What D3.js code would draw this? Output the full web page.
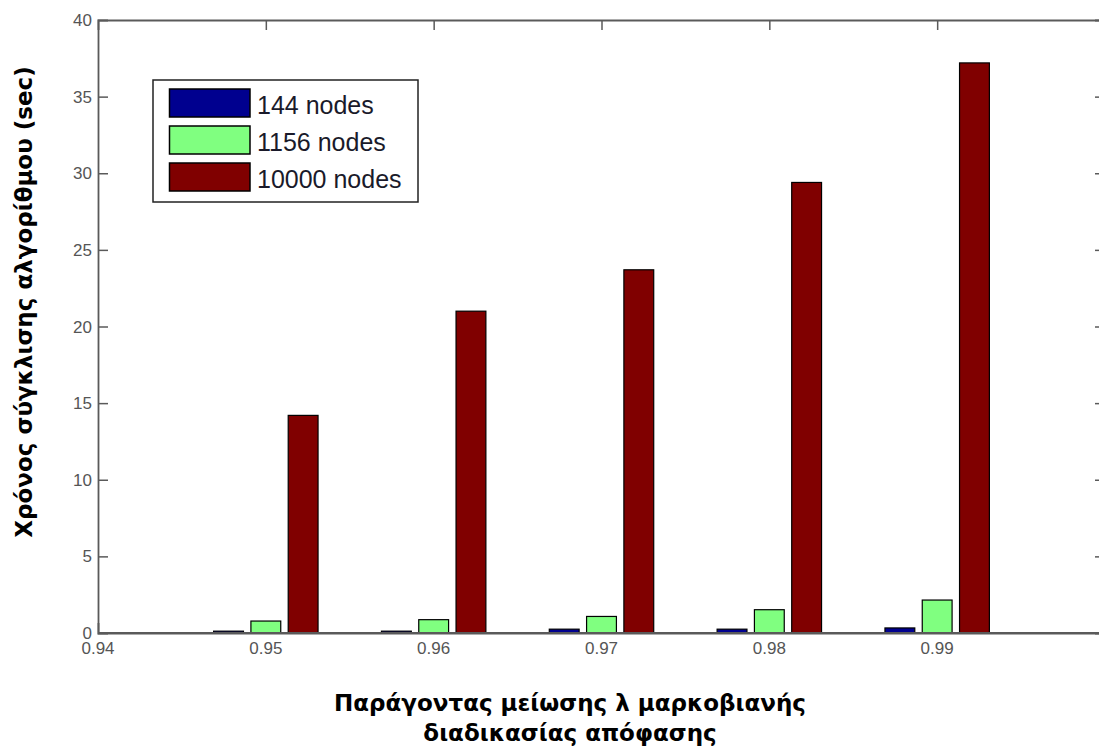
<!DOCTYPE html>
<html><head><meta charset="utf-8">
<script src="https://cdn.jsdelivr.net/npm/d3@7"></script>
<style>
html,body{margin:0;padding:0;background:#fff;overflow:hidden;}
svg{display:block;}
</style></head>
<body>
<svg id="chart" width="1099" height="755"></svg>
<script>
const categories = [0.95, 0.96, 0.97, 0.98, 0.99];
const seriesNames = ["144 nodes", "1156 nodes", "10000 nodes"];
const nodes144 = [0.12, 0.12, 0.25, 0.25, 0.33];
const nodes1156 = [0.78, 0.87, 1.08, 1.52, 2.15];
const nodes10000 = [14.2, 21.0, 23.7, 29.4, 37.2];
const seriesValues = [nodes144, nodes1156, nodes10000];
const xTicks = [0.94, 0.95, 0.96, 0.97, 0.98, 0.99, 1.00];
const yTicks = [0, 5, 10, 15, 20, 25, 30, 35, 40];
const colors = ["#00008f", "#80ff80", "#800000"];

const svg = d3.select("#chart");
const L = 98, T = 20, R = 1105, B = 633;

const x = d3.scaleLinear().domain([0.94, 1.00]).range([L, R]);
const y = d3.scaleLinear().domain([0, 40]).range([B, T]);
const spacing = x(0.95) - x(0.94);
const groupW = spacing * (3 / 4.5);
const inner = d3.scaleBand().domain(d3.range(3)).range([-groupW/2, groupW/2]).paddingInner(0.2).paddingOuter(0.1);

const axisColor = "#5a5a5a";
const tickColor = "#555";
const fontTick = "Liberation Sans, Arial, sans-serif";

// axes (box) - drawn beneath bars
const gL = svg.append("g").attr("transform", `translate(${L},0)`)
  .call(d3.axisRight(y).tickValues(yTicks).tickSize(10).tickFormat(""));
const gR = svg.append("g").attr("transform", `translate(${R},0)`)
  .call(d3.axisLeft(y).tickValues(yTicks).tickSize(10).tickFormat(""));
const gB = svg.append("g").attr("transform", `translate(0,${B})`)
  .call(d3.axisTop(x).tickValues(xTicks).tickSize(10).tickFormat(""));
const gT = svg.append("g").attr("transform", `translate(0,${T})`)
  .call(d3.axisBottom(x).tickValues(xTicks).tickSize(10).tickFormat(""));
[gL, gR, gB, gT].forEach(g => {
  g.selectAll("path.domain").attr("stroke", axisColor).attr("stroke-width", 1.8);
  g.selectAll(".tick line").attr("stroke", axisColor).attr("stroke-width", 1.5);
});
gL.selectAll(".tick").filter(d => d === 0 || d === 40).select("line").remove();
gR.selectAll(".tick").filter(d => d === 0 || d === 40).select("line").remove();
gB.selectAll(".tick").filter(d => d === 0.94 || d === 1.00).select("line").remove();
gT.selectAll(".tick").filter(d => d === 0.94 || d === 1.00).select("line").remove();

// bars
seriesValues.forEach((vals, s) => {
  svg.append("g").selectAll("rect").data(vals).join("rect")
    .attr("x", (d, i) => x(categories[i]) + inner(s))
    .attr("width", inner.bandwidth())
    .attr("y", d => y(d))
    .attr("height", d => y(0) - y(d))
    .attr("fill", colors[s])
    .attr("stroke", "#000")
    .attr("stroke-width", 1.2);
});

// baseline over bars
svg.append("line").attr("x1", L).attr("x2", R).attr("y1", B).attr("y2", B)
  .attr("stroke", axisColor).attr("stroke-width", 1.8);

// tick labels
svg.append("g").selectAll("text").data(yTicks).join("text")
  .attr("x", L - 6).attr("y", d => y(d) + 6)
  .attr("text-anchor", "end")
  .attr("font-family", fontTick).attr("font-size", 17)
  .attr("fill", tickColor)
  .text(d => d);
svg.append("g").selectAll("text").data(xTicks).join("text")
  .attr("x", d => x(d)).attr("y", B + 21)
  .attr("text-anchor", "middle")
  .attr("font-family", fontTick).attr("font-size", 17)
  .attr("fill", tickColor)
  .text(d => d3.format(".2f")(d).replace("1.00", "1"));

// legend
const lg = svg.append("g");
lg.append("rect").attr("x", 153).attr("y", 80).attr("width", 265).attr("height", 122)
  .attr("fill", "#fff").attr("stroke", "#222").attr("stroke-width", 1.5);
seriesNames.forEach((name, i) => {
  const yy = 89 + i * 37;
  lg.append("rect").attr("x", 169.5).attr("y", yy).attr("width", 80.5).attr("height", 28)
    .attr("fill", colors[i]).attr("stroke", "#000").attr("stroke-width", 1.5);
  lg.append("text").attr("x", 257).attr("y", yy + 25)
    .attr("font-family", fontTick).attr("font-size", 25)
    .attr("fill", "#1a1a2a").text(name);
});

// axis titles
const titleFont = "DejaVu Sans, Verdana, sans-serif";
svg.append("text")
  .attr("transform", "translate(32,302) rotate(-90)")
  .attr("text-anchor", "middle")
  .attr("font-family", titleFont).attr("font-weight", "bold").attr("font-size", 23)
  .attr("fill", "#000")
  .text("Χρόνος σύγκλισης αλγορίθμου (sec)");
svg.append("text")
  .attr("x", 570).attr("y", 711)
  .attr("text-anchor", "middle")
  .attr("font-family", titleFont).attr("font-weight", "bold").attr("font-size", 23)
  .attr("fill", "#000")
  .text("Παράγοντας μείωσης λ μαρκοβιανής");
svg.append("text")
  .attr("x", 570).attr("y", 741)
  .attr("text-anchor", "middle")
  .attr("font-family", titleFont).attr("font-weight", "bold").attr("font-size", 23)
  .attr("fill", "#000")
  .text("διαδικασίας απόφασης");
</script>
</body></html>
